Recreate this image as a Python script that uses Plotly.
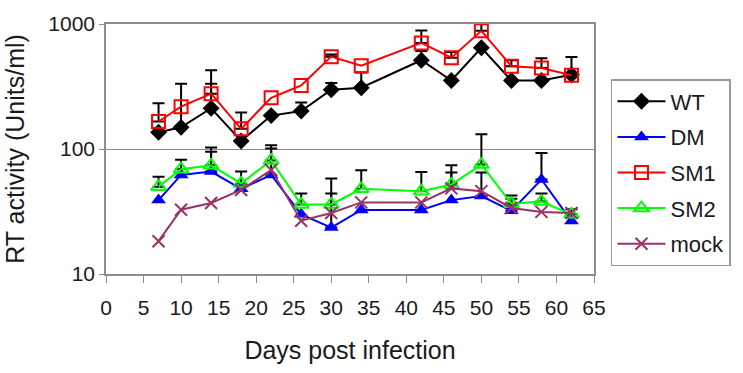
import plotly.graph_objects as go

days = [7, 10, 14, 18, 22, 26, 30, 34, 42, 46, 50, 54, 58, 62]

wt = [136, 149, 212, 116, 185, 201, 298, 309, 513, 353, 645, 353, 353, 393]
dm = [39, 62, 66, 48, 62, 30, 23.5, 32.5, 32.5, 39, 42, 32, 57, 26.5]
sm1 = [166, 218, 277, 145, 257, 322, 548, 463, 706, 538, 882, 460, 444, 389]
sm2 = [50, 69, 74, 53, 81, 36, 36, 48, 46, 52, 75, 36.5, 38, 30]
mock = [18.3, 32.7, 37, 47, 68, 26.7, 30.8, 37.4, 37.4, 48.4, 46, 33.7, 31.4, 30.8]

# upper ends of the error bars (None = no bar)
wt_err_top = [None, 333, 333, None, None, 236, 338, 410, 607, None, None, None, None, 544]
dm_err_top = [None, None, 95, None, 101, None, 44, None, None, None, 65, 40, 93, None]
sm1_err_top = [232, None, 427, 196, None, None, 571, None, 886, 596, 1140, 513, 531, None]
sm2_err_top = [60, 82, 103, 66, 107, 44, 58, 67.5, 65.5, 74, 131, 42.4, 44, 33]
mock_err_top = [None, None, None, None, None, None, None, None, None, 65, None, None, None, None]

x_ticks = list(range(0, 70, 5))
y_tickvals = [10, 100, 1000]
y_ticktext = ["10", "100", "1000"]

series = [
    ("WT", wt, wt_err_top, "#000000", dict(symbol="diamond", size=13, color="#000000")),
    ("DM", dm, dm_err_top, "#0000FF", dict(symbol="triangle-up", size=13, color="#0000FF")),
    ("SM1", sm1, sm1_err_top, "#FF0000", dict(symbol="square-open", size=13, color="#FF0000", line=dict(width=2))),
    ("SM2", sm2, sm2_err_top, "#00FF00", dict(symbol="triangle-up-open", size=13, color="#00FF00", line=dict(width=2))),
    ("mock", mock, mock_err_top, "#993366", dict(symbol="x-thin-open", size=12, color="#993366", line=dict(width=2, color="#993366"))),
]

FONT = "Arial, Liberation Sans, sans-serif"
fig = go.Figure()

# error bars (drawn first, beneath the series)
for name, vals, tops, color, mk in series:
    xs, ys, errs = [], [], []
    for d, v, t in zip(days, vals, tops):
        if t is not None:
            xs.append(d)
            ys.append(v)
            errs.append(t - v)
    fig.add_trace(go.Scatter(
        x=xs, y=ys, mode="markers",
        marker=dict(size=1, color="rgba(0,0,0,0)"),
        error_y=dict(type="data", symmetric=False, array=errs, arrayminus=[0] * len(errs),
                     color="#000000", thickness=2, width=6),
        showlegend=False, hoverinfo="skip",
    ))

for i, (name, vals, tops, color, mk) in enumerate(series):
    fig.add_trace(go.Scatter(
        x=days, y=vals, mode="lines+markers", name=name,
        line=dict(color=color, width=2), marker=mk,
        legendgroup=f"g{i}",
    ))

fig.update_layout(
    width=743, height=373,
    margin=dict(l=106, r=148, t=19, b=99),
    paper_bgcolor="white", plot_bgcolor="white",
    font=dict(family=FONT, size=21, color="#1a1a1a"),
    legend=dict(
        x=1.0348, xanchor="left", y=0.78, yanchor="top",
        bgcolor="white", bordercolor="#9a9a9a", borderwidth=1.5,
        font=dict(size=22), tracegroupgap=4, itemwidth=48, entrywidth=62,
    ),
    xaxis=dict(
        range=[0, 65], tickvals=x_ticks, ticktext=[str(t) for t in x_ticks],
        showgrid=False, zeroline=False,
        showline=True, linecolor="#8c8c8c", linewidth=1.5, mirror=True,
        ticks="outside", ticklen=7, tickcolor="#8c8c8c", tickwidth=1,
        ticklabelstandoff=7,
        title=dict(text="Days post infection", standoff=24),
    ),
    yaxis=dict(
        type="log", range=[1, 3], tickvals=y_tickvals, ticktext=y_ticktext,
        showgrid=True, gridcolor="#8c8c8c", gridwidth=1,
        zeroline=False,
        showline=True, linecolor="#8c8c8c", linewidth=1.5, mirror=True,
        ticks="outside", ticklen=5, tickcolor="#8c8c8c", tickwidth=1,
        title=dict(text="RT activity (Units/ml)", standoff=17),
    ),
)

fig.write_html("out.html")
